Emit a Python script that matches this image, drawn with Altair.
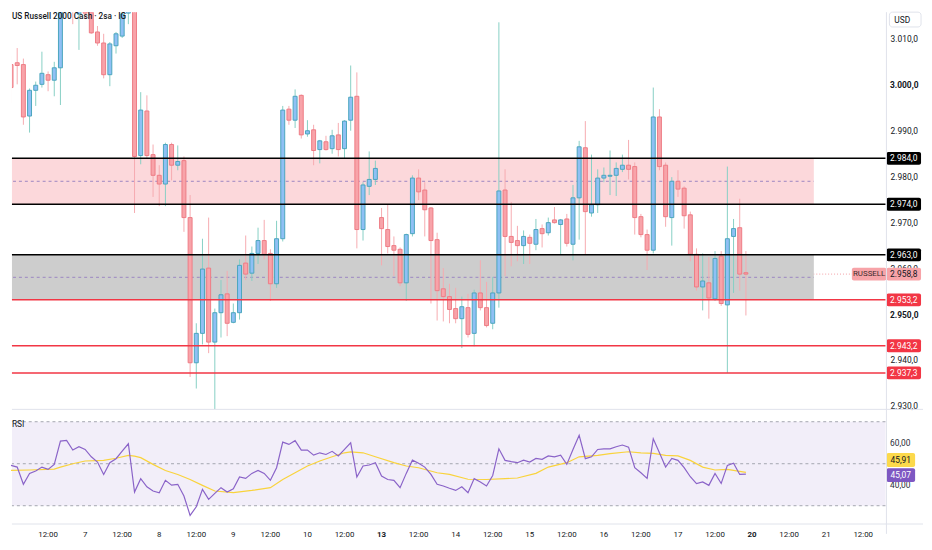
import altair as alt
import pandas as pd

# ---------------- data ----------------
opens = [3004.4, 3004.8, 3004.4, 2993.2, 2998.8, 3000.1, 3002.2, 3001.0, 3003.7, 3018.6,
         3019.2, 3015.4, 3016.6, 3015.8, 3011.5, 3009.1, 3002.2, 3008.5, 3010.6, 3015.6,
         3018.6, 2984.6, 2994.3, 2984.8, 2980.3, 2978.4, 2987.0, 2982.5, 2983.5, 2971.1,
         2939.5, 2945.9, 2960.1, 2944.0, 2950.4, 2954.5, 2948.3, 2950.4, 2961.2, 2959.0,
         2963.3, 2966.1, 2963.3, 2956.7, 2966.5, 2994.7, 2992.3, 2997.7, 2989.3, 2990.2,
         2985.9, 2987.6, 2986.1, 2989.1, 2986.1, 2992.3, 2997.5, 2968.5, 2977.9, 2979.4,
         2971.1, 2968.5, 2965.0, 2964.2, 2956.9, 2967.6, 2979.7, 2977.1, 2973.2, 2966.3,
         2955.6, 2953.9, 2951.3, 2949.1, 2951.5, 2945.9, 2954.7, 2951.5, 2948.1, 2954.7,
         2977.1, 2967.0, 2966.1, 2965.0, 2966.8, 2965.3, 2968.7, 2967.8, 2970.6, 2969.6,
         2970.8, 2965.3, 2975.4, 2986.3, 2972.1, 2973.9, 2979.7, 2980.1, 2980.3, 2981.6,
         2982.5, 2982.2, 2971.3, 2967.4, 2964.0, 2993.0, 2982.5, 2971.1, 2979.0, 2977.5,
         2971.7, 2963.1, 2956.0, 2956.9, 2953.4, 2962.7, 2952.1, 2967.0, 2968.9, 2959.1]
highs = [3006.3, 3008.0, 3005.7, 2999.2, 3000.7, 3007.2, 3002.9, 3005.0, 3019.7, 3021.0,
         3020.0, 3017.5, 3017.5, 3017.5, 3012.8, 3011.1, 3009.3, 3011.5, 3017.5, 3019.7,
         3019.7, 2998.4, 2997.7, 2987.0, 2982.5, 2987.4, 2987.4, 2986.8, 2984.4, 2976.0,
         2948.1, 2966.5, 2971.1, 2951.3, 2957.5, 2959.5, 2952.4, 2962.0, 2967.2, 2964.8,
         2968.9, 2970.6, 2964.2, 2970.4, 2995.4, 2995.4, 2999.0, 2997.9, 2992.3, 2991.3,
         2988.0, 2988.9, 2990.2, 2991.7, 2992.3, 3004.2, 3002.7, 2978.8, 2985.5, 2983.5,
         2973.2, 2973.9, 2967.0, 2964.6, 2967.6, 2980.3, 2981.6, 2978.8, 2973.4, 2967.8,
         2960.1, 2956.7, 2955.8, 2953.9, 2954.5, 2955.4, 2961.8, 2957.1, 2958.2, 3013.6,
         2981.6, 2974.5, 2969.3, 2968.3, 2967.4, 2970.8, 2969.6, 2971.1, 2973.4, 2970.8,
         2971.9, 2978.2, 2987.8, 2992.1, 2984.8, 2981.6, 2982.0, 2985.7, 2983.1, 2984.8,
         2988.0, 2983.1, 2971.9, 2968.5, 2999.4, 2994.7, 2983.1, 2979.9, 2981.4, 2977.9,
         2972.4, 2964.4, 2963.3, 2962.5, 2963.8, 2963.8, 2982.2, 2970.8, 2975.2, 2963.8]
lows = [2996.0, 3000.1, 2991.3, 2989.6, 2995.4, 2999.4, 2998.6, 2997.5, 2995.6, 3015.8,
        3013.2, 3007.6, 3014.3, 3011.1, 3008.5, 3001.4, 2999.7, 3006.8, 3010.2, 3013.2,
        2972.1, 2982.7, 2984.0, 2975.6, 2973.6, 2973.6, 2979.2, 2981.4, 2968.0, 2936.4,
        2933.9, 2943.5, 2941.6, 2929.4, 2945.0, 2945.3, 2948.1, 2948.9, 2957.5, 2957.3,
        2961.0, 2962.0, 2953.0, 2955.8, 2965.9, 2991.3, 2990.6, 2988.3, 2988.7, 2982.5,
        2982.9, 2985.7, 2985.0, 2984.4, 2984.0, 2990.0, 2964.4, 2966.1, 2976.0, 2978.2,
        2960.7, 2963.3, 2958.4, 2956.2, 2953.0, 2967.0, 2974.9, 2967.0, 2952.4, 2948.7,
        2948.5, 2948.1, 2948.1, 2942.7, 2945.0, 2943.1, 2950.9, 2947.2, 2946.8, 2951.5,
        2958.4, 2960.5, 2961.6, 2961.0, 2961.0, 2964.0, 2964.6, 2967.2, 2969.8, 2963.1,
        2964.8, 2961.8, 2966.3, 2963.1, 2971.3, 2972.1, 2978.8, 2976.0, 2975.8, 2981.0,
        2979.4, 2967.4, 2966.8, 2959.7, 2963.3, 2981.4, 2969.1, 2965.0, 2975.6, 2968.7,
        2961.6, 2955.2, 2950.9, 2949.1, 2953.0, 2951.9, 2937.3, 2954.7, 2955.2, 2949.8]
closes = [2999.4, 3004.2, 2993.0, 2998.8, 2999.9, 3002.5, 3001.0, 3003.7, 3018.6, 3019.5,
          3016.0, 3016.9, 3015.6, 3011.3, 3009.1, 3002.2, 3008.9, 3011.1, 3015.4, 3018.6,
          2984.4, 2994.5, 2984.6, 2980.3, 2978.4, 2987.0, 2982.5, 2983.3, 2971.1, 2939.5,
          2945.9, 2959.9, 2944.0, 2950.4, 2954.3, 2948.1, 2950.4, 2960.7, 2958.8, 2963.3,
          2966.1, 2963.1, 2956.7, 2966.5, 2994.5, 2992.3, 2997.5, 2989.1, 2990.0, 2985.7,
          2987.8, 2985.9, 2988.9, 2985.9, 2992.1, 2997.3, 2968.5, 2978.2, 2979.4, 2981.8,
          2968.7, 2964.8, 2964.0, 2956.9, 2967.4, 2979.7, 2976.7, 2972.8, 2966.1, 2955.2,
          2953.9, 2951.1, 2949.1, 2951.7, 2945.7, 2954.7, 2951.5, 2947.6, 2954.7, 2976.9,
          2967.0, 2965.7, 2965.0, 2967.0, 2965.5, 2968.5, 2967.6, 2970.0, 2970.0, 2970.6,
          2965.5, 2975.4, 2986.5, 2972.4, 2973.9, 2979.7, 2980.3, 2980.3, 2981.8, 2982.5,
          2981.6, 2971.1, 2967.4, 2964.0, 2993.0, 2982.2, 2971.3, 2979.0, 2977.3, 2971.5,
          2963.1, 2956.0, 2957.3, 2953.6, 2962.2, 2952.4, 2966.5, 2968.7, 2958.8, 2958.8]

rsi = [49.2, 48.4, 40.2, 45.4, 46.5, 48.4, 47.3, 49.7, 60.8, 61.1,
       56.5, 58.1, 56.8, 53.3, 50.8, 44.9, 50.5, 52.4, 56.0, 59.5,
       36.5, 42.9, 39.0, 37.0, 36.2, 42.1, 39.8, 40.2, 34.6, 25.4,
       29.5, 37.8, 33.0, 35.9, 38.6, 36.5, 38.1, 43.7, 43.0, 45.4,
       46.8, 45.4, 42.1, 48.1, 60.3, 59.2, 61.0, 56.5, 56.5, 54.1,
       55.2, 54.4, 55.9, 53.7, 56.8, 60.0, 43.7, 48.9, 49.4, 50.5,
       44.1, 42.5, 42.1, 38.6, 45.4, 51.7, 50.2, 48.4, 44.9, 40.2,
       39.4, 38.3, 37.3, 39.0, 36.2, 42.9, 41.3, 39.4, 44.4, 57.1,
       51.6, 51.0, 50.5, 51.7, 50.8, 52.5, 52.1, 53.7, 53.3, 54.1,
       49.7, 56.8, 63.5, 52.4, 53.3, 56.8, 57.1, 57.1, 58.1, 58.9,
       57.9, 48.1, 45.7, 43.0, 61.9, 55.2, 48.4, 52.5, 51.6, 48.1,
       43.8, 40.5, 41.3, 39.7, 45.4, 40.6, 49.2, 50.2, 44.9, 45.07]

ma_idx = [0, 3, 7, 8, 10, 12, 15, 17, 19, 20, 21, 23, 25, 27, 29, 31, 33, 36, 39, 42,
          44, 46, 48, 50, 52, 54, 55, 57, 59, 62, 64, 66, 69, 71, 74, 77, 80, 82, 85, 87,
          90, 92, 95, 97, 100, 102, 104, 106, 108, 110, 112, 114, 116, 119]
ma_val = [46.8, 47.0, 47.4, 48.4, 50.0, 51.3, 51.6, 52.6, 54.0, 53.6, 52.9, 49.7, 46.8, 44.9,
          42.5, 39.7, 37.0, 36.2, 37.3, 38.6, 42.5, 45.7, 48.9, 51.3, 53.3, 55.2, 55.6, 55.2,
          53.3, 50.5, 48.9, 48.1, 45.7, 44.9, 42.6, 42.5, 42.9, 43.2, 45.4, 48.4, 50.5, 53.3,
          54.0, 54.8, 55.7, 55.2, 54.9, 54.0, 53.7, 51.6, 48.4, 47.0, 47.3, 45.91]

black_levels = [2984.0, 2974.0, 2963.0]
red_levels = [2953.2, 2943.2, 2937.3]
zone_names = ["resistance", "support"]
zone_top = [2984.0, 2963.0]
zone_bottom = [2974.0, 2953.2]
zone_start = [-40, -40]
zone_end = [130, 130]
last_price = 2958.8
symbol = "RUSSELL"
price_ticks = [3010, 3000, 2990, 2980, 2970, 2960, 2950, 2940, 2930]
rsi_levels = [70, 50, 30]
rsi_ticks = [60, 40]
rsi_last = 45.07
ma_last = 45.91
time_idx = [6, 12, 18, 24, 30, 36, 42, 48, 54, 60, 66, 72, 78, 84, 90, 96, 102, 108, 114, 120,
            126, 132, 138]
time_text = ["12:00", "7", "12:00", "8", "12:00", "9", "12:00", "10", "12:00", "13", "12:00",
             "14", "12:00", "15", "12:00", "16", "12:00", "17", "12:00", "20", "12:00", "21",
             "12:00"]
week_start = ["13", "20"]
title = "US Russell 2000 Cash · 2sa · IG"


def tv(v, d=1):
    s = f"{v:,.{d}f}"
    return s.replace(",", "_").replace(".", ",").replace("_", ".")


# ---------------- tables ----------------
candles = pd.DataFrame({"idx": list(range(len(opens))), "open": opens, "high": highs,
                        "low": lows, "close": closes})
candles["dir"] = ["up" if c >= o else "down" for o, c in zip(opens, closes)]
zones = pd.DataFrame({"name": zone_names, "zt": zone_top, "zb": zone_bottom,
                      "zs": zone_start, "ze": zone_end})
lv_black = pd.DataFrame({"lv": black_levels, "txt": [tv(v) for v in black_levels]})
lv_red = pd.DataFrame({"lv": red_levels, "txt": [tv(v) for v in red_levels]})
ticks = pd.DataFrame({"value": price_ticks, "txt": [tv(v) for v in price_ticks]})
lastdf = pd.DataFrame({"p": [last_price], "txt": [tv(last_price)], "sym": [symbol]})
rsidf = pd.DataFrame({"idx": list(range(len(rsi))), "rsi": rsi})
madf = pd.DataFrame({"idx": ma_idx, "ma": ma_val})
rsilv = pd.DataFrame({"v": rsi_levels})
rsiband = pd.DataFrame({"top": [max(rsi_levels)], "bot": [min(rsi_levels)]})
rsitk = pd.DataFrame({"v": rsi_ticks, "txt": [tv(v, 2) for v in rsi_ticks]})
rsilast = pd.DataFrame({"v": [rsi_last], "txt": [tv(rsi_last, 2)]})
malast = pd.DataFrame({"v": [ma_last], "txt": [tv(ma_last, 2)]})
times = pd.DataFrame({"t": time_idx, "txt": time_text})

# ---------------- scales ----------------
XD = [0.95, 140.8]
PD = [2904.41, 3015.81]
RD = [21.29, 265.06]
FONT = "Roboto"
TXT = "#131722"
FS = 8.5


def X(f):
    return alt.X(f"{f}:Q", scale=alt.Scale(domain=XD, nice=False, zero=False), axis=None)


def PY(f):
    return alt.Y(f"{f}:Q", scale=alt.Scale(domain=PD, nice=False, zero=False), axis=None)


def RY(f):
    return alt.Y(f"{f}:Q", scale=alt.Scale(domain=RD, nice=False, zero=False), axis=None)


layers = []
# current price dotted line (beneath zones)
layers.append(alt.Chart(lastdf).mark_rule(color="#f4a0a6", strokeDash=[1, 2], strokeWidth=1)
              .encode(y=PY("p")))
# zones
zc = {"resistance": "#fcd8db", "support": "#cdcdcd"}
for nm in zone_names:
    layers.append(alt.Chart(zones).transform_filter(f"datum.name == '{nm}'")
                  .mark_rect(color=zc[nm], clip=True)
                  .encode(x=X("zs"), x2="ze", y=PY("zt"), y2="zb"))
layers.append(alt.Chart(zones).transform_calculate(zm="(datum.zt + datum.zb) / 2")
              .mark_rule(color="#9b86c2", strokeDash=[3, 3], strokeWidth=1, clip=True)
              .encode(x=X("zs"), x2="ze", y=PY("zm")))
# candles
sty = {"up": ("#86cfc4", "#8fc0f4", "#4aa6bd"), "down": ("#f6abb0", "#f8a3a9", "#ee7c85")}
for d in ["up", "down"]:
    wick, fill, stroke = sty[d]
    base = alt.Chart(candles).transform_filter(f"datum.dir == '{d}'")
    layers.append(base.mark_rule(color=wick, strokeWidth=1, clip=True)
                  .encode(x=X("idx"), y=PY("low"), y2="high"))
for d in ["up", "down"]:
    wick, fill, stroke = sty[d]
    base = alt.Chart(candles).transform_filter(f"datum.dir == '{d}'")
    layers.append(base.mark_bar(size=4, fill=fill, stroke=stroke, strokeWidth=1, clip=True)
                  .encode(x=X("idx"), y=PY("open"), y2="close"))
# level lines
layers.append(alt.Chart(lv_black).mark_rule(color="#000000", strokeWidth=1.5).encode(y=PY("lv")))
layers.append(alt.Chart(lv_red).mark_rule(color="#f23645", strokeWidth=1.5).encode(y=PY("lv")))
# price axis labels
for cond, wt in [("datum.value % 50 != 0", "normal"), ("datum.value % 50 == 0", "bold")]:
    layers.append(alt.Chart(ticks).transform_filter(cond)
                  .mark_text(font=FONT, fontSize=FS, fontWeight=wt, color=TXT, align="center",
                             baseline="middle")
                  .encode(x=alt.value(903), y=PY("value"), text="txt"))
# level boxes
for df, col in [(lv_black, "#000000"), (lv_red, "#f23645")]:
    layers.append(alt.Chart(df).mark_tick(orient="horizontal", size=35, thickness=13, color=col,
                                          opacity=1, cornerRadius=2)
                  .encode(x=alt.value(902.5), y=PY("lv")))
    layers.append(alt.Chart(df).mark_text(font=FONT, fontSize=FS, color="#ffffff", align="center",
                                          baseline="middle")
                  .encode(x=alt.value(902.5), y=PY("lv"), text="txt"))
# last price boxes
layers.append(alt.Chart(lastdf).mark_tick(orient="horizontal", size=35, thickness=13,
                                          color="#f7a3a8", opacity=1, cornerRadius=2)
              .encode(x=alt.value(902.5), y=PY("p")))
layers.append(alt.Chart(lastdf).mark_tick(orient="horizontal", size=35, thickness=13,
                                          color="#f7a3a8", opacity=1, cornerRadius=2)
              .encode(x=alt.value(867.5), y=PY("p")))
layers.append(alt.Chart(lastdf).mark_text(font=FONT, fontSize=FS, color=TXT, align="center",
                                          baseline="middle")
              .encode(x=alt.value(902.5), y=PY("p"), text="txt"))
layers.append(alt.Chart(lastdf).mark_text(font=FONT, fontSize=8, color="#3b2a2c",
                                          align="center", baseline="middle")
              .encode(x=alt.value(867.5), y=PY("p"), text="sym"))

# ---------------- RSI pane ----------------
layers.append(alt.Chart(rsiband).mark_rect(color="#f2eef9").encode(y=RY("top"), y2="bot"))
layers.append(alt.Chart(rsilv).mark_rule(color="#a3a6af", strokeDash=[3, 3], strokeWidth=1)
              .encode(y=RY("v")))
layers.append(alt.Chart(madf).mark_line(color="#f9d33c", strokeWidth=1.2)
              .encode(x=X("idx"), y=RY("ma")))
layers.append(alt.Chart(rsidf).mark_line(color="#8a63c8", strokeWidth=1.2)
              .encode(x=X("idx"), y=RY("rsi")))
layers.append(alt.Chart(rsitk).mark_text(font=FONT, fontSize=FS, color="#2a2e39", align="center",
                                         baseline="middle")
              .encode(x=alt.value(899), y=RY("v"), text="txt"))
# the two value tags are pushed apart as the platform does, so they do not overlap
for df, col, tcol, off in [(malast, "#fcd94c", TXT, -12.5), (rsilast, "#7e57c2", "#ffffff", 1)]:
    layers.append(alt.Chart(df).mark_tick(orient="horizontal", size=29, thickness=14, color=col,
                                          opacity=1, cornerRadius=2, yOffset=off)
                  .encode(x=alt.value(899.5), y=RY("v")))
    layers.append(alt.Chart(df).mark_text(font=FONT, fontSize=FS, color=tcol, align="center",
                                          baseline="middle", yOffset=off)
                  .encode(x=alt.value(899.5), y=RY("v"), text="txt"))
layers.append(alt.Chart(pd.DataFrame({"t": ["RSI"]}))
              .mark_text(font=FONT, fontSize=8.5, color=TXT, align="left", baseline="middle")
              .encode(x=alt.value(0), y=alt.value(417), text="t"))

# separators
sep = pd.DataFrame({"a": [0]})
layers.append(alt.Chart(sep).mark_rule(color="#e0e3eb", strokeWidth=1)
              .encode(x=alt.value(0), x2=alt.value(922), y=alt.value(402)))
layers.append(alt.Chart(sep).mark_rule(color="#e0e3eb", strokeWidth=1)
              .encode(x=alt.value(0), x2=alt.value(922), y=alt.value(518)))
layers.append(alt.Chart(sep).mark_rule(color="#e0e3eb", strokeWidth=1)
              .encode(x=alt.value(885), y=alt.value(0), y2=alt.value(528)))

# time axis labels
for cond, wt in [(f"indexof({week_start}, datum.txt) < 0", "normal"),
                 (f"indexof({week_start}, datum.txt) >= 0", "bold")]:
    layers.append(alt.Chart(times).transform_filter(cond)
                  .mark_text(font=FONT, fontSize=8, fontWeight=wt, color=TXT, align="center",
                             baseline="middle")
                  .encode(x=X("t"), y=alt.value(529), text="txt"))

# title and currency tag
layers.append(alt.Chart(pd.DataFrame({"t": [title]}))
              .mark_text(font=FONT, fontSize=8.3, fontWeight=500, color=TXT, align="left",
                         baseline="middle")
              .encode(x=alt.value(0), y=alt.value(5), text="t"))
layers.append(alt.Chart(pd.DataFrame({"t": ["USD"]}))
              .mark_rect(fill="#ffffff", stroke="#e0e3eb", strokeWidth=1, cornerRadius=3)
              .encode(x=alt.value(888), x2=alt.value(920), y=alt.value(0), y2=alt.value(15)))
layers.append(alt.Chart(pd.DataFrame({"t": ["USD"]}))
              .mark_text(font=FONT, fontSize=8.5, color=TXT, align="center", baseline="middle")
              .encode(x=alt.value(901), y=alt.value(7.5), text="t"))

chart = (alt.layer(*layers)
         .resolve_scale(y="independent")
         .properties(width=884, height=518, padding=0, background="#ffffff")
         .configure_view(strokeWidth=0))

chart.save("out.html", embed_options={"renderer": "svg", "actions": False})
